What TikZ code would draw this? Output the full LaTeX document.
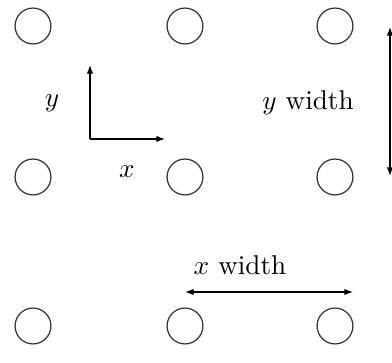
\documentclass[tikz,border=0pt]{standalone}
\usetikzlibrary{arrows.meta}
\begin{document}
\begin{tikzpicture}[x=0.368pt,y=-0.368pt,
  hole/.style={draw=black!80,circle,minimum size=13.2pt,inner sep=0pt,line width=0.45pt},
  arr/.style={line width=0.5pt,-{Latex[length=3.2pt,width=2.4pt]}},
  darr/.style={line width=0.5pt,{Latex[length=3.2pt,width=2.4pt]}-{Latex[length=3.2pt,width=2.4pt]}},
  lbl/.style={inner sep=0pt,font=\normalsize}]
\useasboundingbox (0,0) rectangle (392,363);
% holes
\node[hole] (c11) at (33,26) {};
\node[hole] (c12) at (185,26) {};
\node[hole] (c13) at (335,26) {};
\node[hole] (c21) at (33,177) {};
\node[hole] (c22) at (185,177) {};
\node[hole] (c23) at (335,177) {};
\node[hole] (c31) at (33,326) {};
\node[hole] (c32) at (185,326) {};
\node[hole] (c33) at (335,326) {};
% axes
\coordinate (o) at (90,139);
\coordinate (ytip) at (90,65);
\coordinate (xtip) at (165,139);
\draw[arr] (o) -- (ytip);
\draw[arr] (o) -- (xtip);
\node[lbl] (ylab) at (52,103) {$y$};
\node[lbl] (xlab) at (127,172) {$x$};
% widths
\coordinate (ya) at (390,27);
\coordinate (yb) at (390,176);
\draw[darr] (ya) -- (yb);
\node[lbl] (yw) at (308,103) {$y$ width};
\coordinate (xa) at (185,292);
\coordinate (xb) at (353,292);
\draw[darr] (xa) -- (xb);
\node[lbl] (xw) at (240,265) {$x$ width};
\end{tikzpicture}
\end{document}
